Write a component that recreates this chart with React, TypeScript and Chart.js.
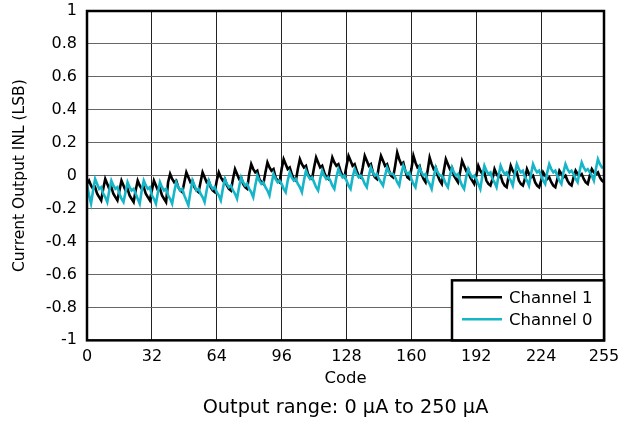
import React, { useEffect, useRef } from "react";
import { Chart, registerables } from "chart.js";

Chart.register(...registerables);

const codes: number[] = Array.from({ length: 256 }, (_, i) => i);

const xTickValues = [0, 32, 64, 96, 128, 160, 192, 224, 255];
const yMin = -1;
const yMax = 1;

const seriesLabels = ["Channel 1", "Channel 0"];

// Channel 1 (black), one row per 8 codes
const channel1: number[] = [
  -0.05, -0.03, -0.06, -0.08, -0.07, -0.11, -0.13, -0.15,
  -0.08, -0.02, -0.05, -0.08, -0.07, -0.11, -0.13, -0.15,
  -0.09, -0.03, -0.06, -0.09, -0.08, -0.12, -0.14, -0.16,
  -0.09, -0.03, -0.06, -0.08, -0.07, -0.11, -0.13, -0.15,
  -0.09, -0.03, -0.06, -0.09, -0.08, -0.12, -0.14, -0.16,
  -0.04, 0.01, -0.02, -0.04, -0.03, -0.07, -0.09, -0.10,
  -0.04, 0.02, -0.01, -0.04, -0.03, -0.07, -0.09, -0.10,
  -0.04, 0.02, -0.01, -0.04, -0.03, -0.07, -0.09, -0.10,
  -0.03, 0.02, -0.01, -0.03, -0.02, -0.06, -0.08, -0.09,
  -0.02, 0.04, 0.01, -0.02, -0.01, -0.05, -0.07, -0.08,
  0.01, 0.07, 0.04, 0.02, 0.03, -0.02, -0.04, -0.05,
  0.02, 0.08, 0.05, 0.03, 0.04, -0.01, -0.03, -0.04,
  0.04, 0.10, 0.07, 0.04, 0.05, 0.01, -0.02, -0.03,
  0.04, 0.10, 0.07, 0.05, 0.06, 0.01, -0.01, -0.02,
  0.05, 0.11, 0.08, 0.05, 0.06, 0.02, -0.01, -0.02,
  0.05, 0.11, 0.08, 0.06, 0.07, 0.03, 0.00, -0.01,
  0.06, 0.12, 0.09, 0.06, 0.07, 0.03, 0.00, -0.01,
  0.05, 0.12, 0.09, 0.06, 0.07, 0.02, -0.01, -0.02,
  0.06, 0.12, 0.09, 0.06, 0.07, 0.03, 0.00, -0.01,
  0.06, 0.14, 0.10, 0.07, 0.08, 0.03, -0.01, -0.02,
  0.04, 0.12, 0.08, 0.05, 0.06, 0.01, -0.02, -0.04,
  0.03, 0.11, 0.07, 0.04, 0.05, 0.00, -0.03, -0.05,
  0.03, 0.10, 0.07, 0.04, 0.05, 0.00, -0.02, -0.04,
  0.02, 0.09, 0.06, 0.03, 0.04, -0.01, -0.03, -0.05,
  0.00, 0.06, 0.03, 0.01, 0.02, -0.03, -0.05, -0.06,
  -0.02, 0.04, 0.01, -0.01, 0.00, -0.04, -0.06, -0.07,
  0.00, 0.06, 0.03, 0.01, 0.02, -0.03, -0.05, -0.06,
  -0.02, 0.04, 0.01, -0.01, 0.00, -0.04, -0.06, -0.07,
  -0.03, 0.02, 0.00, -0.02, -0.01, -0.04, -0.06, -0.07,
  -0.02, 0.03, 0.01, -0.01, 0.00, -0.03, -0.05, -0.06,
  -0.01, 0.03, 0.01, 0.00, 0.01, -0.02, -0.04, -0.05,
  0.00, 0.04, 0.02, 0.01, 0.02, -0.01, -0.03, -0.04,
];

// Channel 0 (cyan), one row per 8 codes
const channel0: number[] = [
  -0.05, -0.12, -0.17, -0.09, -0.02, -0.05, -0.08, -0.07,
  -0.11, -0.13, -0.16, -0.09, -0.03, -0.06, -0.08, -0.07,
  -0.11, -0.14, -0.16, -0.10, -0.04, -0.07, -0.09, -0.08,
  -0.11, -0.14, -0.17, -0.09, -0.03, -0.06, -0.08, -0.07,
  -0.12, -0.14, -0.17, -0.10, -0.04, -0.07, -0.09, -0.08,
  -0.12, -0.14, -0.17, -0.10, -0.04, -0.07, -0.09, -0.08,
  -0.12, -0.15, -0.18, -0.10, -0.03, -0.06, -0.09, -0.08,
  -0.11, -0.13, -0.16, -0.09, -0.03, -0.06, -0.08, -0.07,
  -0.10, -0.12, -0.15, -0.08, -0.02, -0.05, -0.07, -0.06,
  -0.09, -0.11, -0.14, -0.07, -0.01, -0.04, -0.06, -0.05,
  -0.08, -0.10, -0.13, -0.06, 0.00, -0.03, -0.05, -0.04,
  -0.07, -0.09, -0.12, -0.05, 0.01, -0.02, -0.04, -0.03,
  -0.05, -0.08, -0.10, -0.03, 0.02, -0.01, -0.03, -0.02,
  -0.05, -0.07, -0.10, -0.03, 0.03, 0.00, -0.02, -0.01,
  -0.04, -0.07, -0.09, -0.02, 0.03, 0.00, -0.02, -0.01,
  -0.03, -0.06, -0.08, -0.01, 0.04, 0.01, -0.01, 0.00,
  -0.03, -0.06, -0.08, -0.01, 0.04, 0.01, -0.01, 0.00,
  -0.02, -0.05, -0.07, 0.00, 0.05, 0.02, 0.00, 0.01,
  -0.02, -0.04, -0.06, 0.00, 0.05, 0.02, 0.01, 0.01,
  -0.01, -0.04, -0.06, 0.01, 0.06, 0.03, 0.01, 0.02,
  -0.02, -0.05, -0.07, 0.00, 0.05, 0.02, 0.00, 0.01,
  -0.03, -0.05, -0.08, -0.01, 0.05, 0.02, 0.00, 0.00,
  -0.02, -0.05, -0.07, 0.00, 0.05, 0.02, 0.00, 0.01,
  -0.03, -0.06, -0.08, -0.01, 0.04, 0.01, -0.01, 0.00,
  -0.02, -0.05, -0.08, 0.00, 0.06, 0.03, 0.01, 0.02,
  -0.02, -0.04, -0.07, 0.00, 0.06, 0.03, 0.01, 0.02,
  -0.01, -0.03, -0.06, 0.01, 0.07, 0.04, 0.02, 0.03,
  -0.01, -0.03, -0.06, 0.01, 0.07, 0.04, 0.02, 0.03,
  0.00, -0.03, -0.05, 0.02, 0.07, 0.04, 0.02, 0.03,
  0.00, -0.03, -0.05, 0.02, 0.07, 0.04, 0.02, 0.03,
  0.01, -0.02, -0.04, 0.03, 0.08, 0.05, 0.03, 0.04,
  0.02, 0.00, -0.03, 0.04, 0.10, 0.07, 0.05, 0.05,
];

const FONT = "'DejaVu Sans', 'Liberation Sans', Arial, sans-serif";
const BLACK = "#000000";
const CYAN = "#17b5c8";

const frameAndLegend = {
  id: "frameAndLegend",
  afterDatasetsDraw(chart: any) {
    const { ctx, chartArea } = chart;
    const { left, right, top, bottom } = chartArea;
    ctx.save();
    ctx.strokeStyle = "#000";
    ctx.lineWidth = 2.5;
    ctx.strokeRect(left, top, right - left, bottom - top);

    const bw = 152;
    const bh = 60;
    const bx = right - bw;
    const by = bottom - bh;
    ctx.fillStyle = "#fff";
    ctx.fillRect(bx, by, bw, bh);
    ctx.lineWidth = 2.5;
    ctx.strokeRect(bx, by, bw, bh);

    ctx.font = `16.5px ${FONT}`;
    ctx.textBaseline = "middle";
    ctx.textAlign = "left";
    chart.data.datasets.forEach((ds: any, i: number) => {
      const y = by + 17 + i * 22;
      ctx.strokeStyle = ds.borderColor;
      ctx.lineWidth = 2.5;
      ctx.beginPath();
      ctx.moveTo(bx + 10, y);
      ctx.lineTo(bx + 50, y);
      ctx.stroke();
      ctx.fillStyle = "#000";
      ctx.fillText(ds.label, bx + 57, y + 1);
    });
    ctx.restore();
  },
};

export default function App() {
  const canvasRef = useRef<HTMLCanvasElement | null>(null);

  useEffect(() => {
    if (!canvasRef.current) return;
    const chart = new Chart(canvasRef.current, {
      type: "line",
      data: {
        datasets: [
          {
            label: seriesLabels[0],
            data: channel1.map((y, i) => ({ x: codes[i], y })),
            borderColor: BLACK,
            borderWidth: 2.6,
            pointRadius: 0,
            tension: 0,
            order: 1,
          },
          {
            label: seriesLabels[1],
            data: channel0.map((y, i) => ({ x: codes[i], y })),
            borderColor: CYAN,
            borderWidth: 2.6,
            pointRadius: 0,
            tension: 0,
            order: 0,
          },
        ],
      },
      options: {
        animation: false,
        responsive: true,
        maintainAspectRatio: false,
        layout: { padding: { top: 11, right: 27, left: 0, bottom: 0 } },
        plugins: {
          legend: { display: false },
          tooltip: { enabled: false },
          title: {
            display: true,
            position: "bottom",
            fullSize: false,
            text: "Output range: 0 µA to 250 µA",
            color: "#000",
            font: { family: FONT, size: 19.3, weight: "normal" },
            padding: { top: 8.5, bottom: 4 },
          },
        },
        scales: {
          x: {
            type: "linear",
            min: 0,
            max: 255,
            afterBuildTicks: (scale: any) => {
              scale.ticks = xTickValues.map((v) => ({ value: v }));
            },
            afterFit: (scale: any) => {
              scale.height = 48;
            },
            ticks: {
              color: "#000",
              font: { family: FONT, size: 16 },
              padding: 7,
              maxRotation: 0,
              autoSkip: false,
            },
            grid: { color: "#222", lineWidth: 1, drawTicks: false },
            border: { display: false },
            title: {
              display: true,
              text: "Code",
              color: "#000",
              font: { family: FONT, size: 16.5 },
              padding: { top: 0, bottom: 0 },
            },
          },
          y: {
            type: "linear",
            min: yMin,
            max: yMax,
            afterFit: (scale: any) => {
              scale.width = 87;
              scale.paddingTop = 0;
              scale.paddingBottom = 0;
            },
            ticks: {
              stepSize: 0.2,
              color: "#000",
              font: { family: FONT, size: 16 },
              padding: 10,
              callback: (v: any) => String(Number(Number(v).toFixed(1))),
            },
            grid: { color: "#666", lineWidth: 1, drawTicks: false },
            border: { display: false },
            title: {
              display: true,
              text: "Current Output INL (LSB)",
              color: "#000",
              font: { family: FONT, size: 15.5 },
              padding: { top: 10.7, bottom: 0 },
            },
          },
        },
      },
      plugins: [frameAndLegend],
    });
    return () => chart.destroy();
  }, []);

  return (
    <div style={{ position: "absolute", left: 0, top: 0, width: 631, height: 424, background: "#fff" }}>
      <canvas ref={canvasRef} />
    </div>
  );
}
